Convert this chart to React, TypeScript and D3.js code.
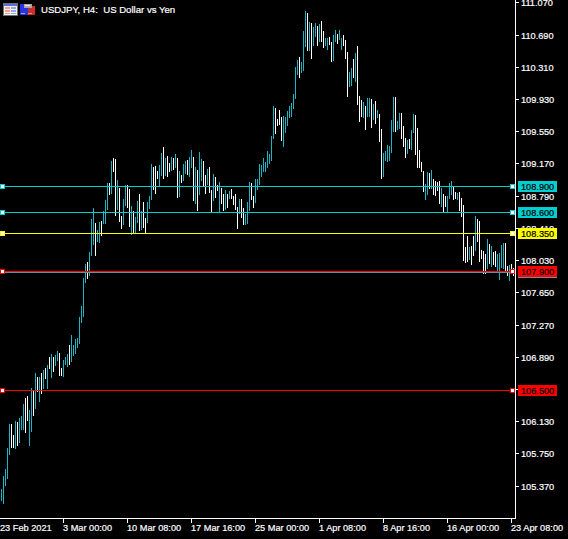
import React from "react";
import * as d3 from "d3";

const title = "USDJPY, H4:  US Dollar vs Yen";
const priceTicks = ["111.070","110.690","110.310","109.930","109.550","109.170","108.790","108.410","108.030","107.650","107.270","106.890","106.510","106.130","105.750","105.370"];
const timeTickBars = [31,63,95,127,159,191,223,255];
const timeTickLabels = ["3 Mar 00:00","10 Mar 08:00","17 Mar 16:00","25 Mar 00:00","1 Apr 08:00","8 Apr 16:00","16 Apr 00:00","23 Apr 08:00"];
const firstDateLabel = "23 Feb 2021";
const levelPrices = [108.9,108.6,108.35,107.9,106.5];
const levelLabels = ["108.900","108.600","108.350","107.900","106.500"];
const levelColors = ["#00CED1","#00CED1","#FFFF00","#FF0000","#FF0000"];
const bidPrice = 107.89;

const highs = [
105.341,105.494,105.577,105.825,106.108,106.108,105.978,106.143,106.131,106.179,
106.202,106.344,106.415,106.438,106.273,106.533,106.497,106.710,106.662,106.662,
106.710,106.745,106.769,106.804,106.898,106.934,106.898,106.922,106.969,106.946,
106.769,106.863,106.898,106.934,107.040,107.158,107.040,107.111,107.123,107.370,
107.500,107.831,107.996,108.019,108.137,108.527,108.657,108.480,108.397,108.491,
108.503,108.621,108.751,108.952,108.952,109.211,109.247,109.235,108.987,108.893,
108.562,108.763,108.928,108.928,108.881,108.680,108.621,108.550,108.739,108.822,
108.621,108.727,108.538,108.727,108.798,109.176,109.140,109.152,109.093,109.164,
109.306,109.376,109.247,109.270,109.188,109.258,109.247,109.294,109.247,109.093,
109.046,109.176,109.211,109.223,109.258,109.341,109.258,109.140,109.105,109.317,
109.235,109.211,109.046,109.117,109.140,108.869,109.058,109.022,108.928,108.963,
108.893,108.822,108.869,108.822,108.857,108.881,108.798,108.822,108.669,108.763,
108.763,108.657,108.586,108.727,108.963,108.952,108.798,108.999,108.999,109.176,
109.164,109.247,109.200,109.329,109.294,109.506,109.860,109.837,109.707,109.813,
109.730,109.742,109.730,109.801,109.860,109.896,110.002,110.320,110.403,110.438,
110.379,110.745,110.981,110.958,110.851,110.840,110.792,110.840,110.804,110.828,
110.863,110.745,110.662,110.662,110.674,110.615,110.698,110.757,110.710,110.757,
110.662,110.698,110.639,110.497,110.261,110.309,110.415,110.486,110.568,109.978,
109.931,109.907,109.860,109.955,109.955,109.943,109.884,109.919,109.813,109.766,
109.589,109.306,109.329,109.400,109.388,109.695,109.966,109.966,109.683,109.778,
109.778,109.624,109.483,109.459,109.471,109.577,109.766,109.754,109.601,109.341,
109.200,109.093,108.940,109.081,109.069,109.105,108.999,108.975,108.963,108.975,
108.893,108.822,108.798,108.798,108.952,108.975,108.904,108.845,108.834,108.845,
108.775,108.692,108.196,108.326,108.196,108.208,108.326,108.562,108.527,108.503,
108.161,108.149,108.114,108.291,108.232,108.208,108.137,108.149,108.114,108.126,
108.220,108.244,108.244,107.972,107.984,107.996,107.949];

const lows = [
105.199,105.164,105.376,105.459,105.742,105.825,105.825,105.813,105.848,105.884,
106.037,106.037,106.002,106.143,105.848,106.013,106.202,106.285,106.485,106.367,
106.462,106.521,106.639,106.521,106.757,106.651,106.721,106.792,106.851,106.674,
106.674,106.662,106.804,106.780,106.804,106.839,106.910,106.934,107.005,107.052,
107.300,107.370,107.772,107.819,107.854,108.090,108.220,108.090,108.255,108.244,
108.326,108.468,108.468,108.633,108.810,108.822,109.081,108.562,108.633,108.491,
108.409,108.456,108.680,108.657,108.433,108.338,108.350,108.350,108.480,108.385,
108.397,108.421,108.361,108.480,108.645,108.751,108.869,108.822,108.999,108.916,
109.034,108.999,109.034,109.022,109.081,109.093,109.105,109.128,108.775,108.786,
108.952,108.975,109.058,109.046,109.022,109.128,108.739,108.704,108.621,108.810,
108.975,108.916,108.822,108.928,108.834,108.609,108.739,108.775,108.857,108.609,
108.704,108.621,108.633,108.657,108.763,108.763,108.692,108.633,108.409,108.586,
108.538,108.456,108.456,108.468,108.621,108.751,108.657,108.715,108.869,108.928,
109.022,109.081,109.081,109.128,109.176,109.211,109.471,109.530,109.624,109.636,
109.447,109.376,109.542,109.624,109.719,109.730,109.825,109.943,110.226,110.191,
110.250,110.273,110.556,110.509,110.509,110.415,110.568,110.674,110.568,110.615,
110.615,110.545,110.568,110.521,110.580,110.379,110.391,110.615,110.592,110.639,
110.521,110.568,110.415,109.966,110.084,110.096,110.191,110.143,109.872,109.671,
109.730,109.719,109.577,109.730,109.730,109.601,109.695,109.648,109.719,109.435,
108.999,109.022,109.211,109.200,109.211,109.306,109.553,109.553,109.577,109.589,
109.471,109.376,109.247,109.294,109.353,109.341,109.542,109.282,109.128,109.128,
109.081,108.845,108.751,108.810,108.881,108.881,108.810,108.798,108.857,108.704,
108.669,108.609,108.669,108.609,108.763,108.810,108.751,108.763,108.751,108.621,
108.550,108.031,108.007,108.019,108.043,107.984,108.090,108.149,108.255,108.019,
108.055,107.878,107.878,107.937,107.996,107.960,107.984,107.960,107.901,107.807,
107.949,107.937,107.901,107.854,107.795,107.901,107.854];

// u = bullish bar, d = bearish bar
const directions = [
"uuuuuddudu","uudduududu","dudududuud","duuuduuuuu","uuuduuuduu",
"duuududdud","duudduduud","udduuudddu","ududdududu","duuduududu",
"uddudduddu","ddududdddu","dduuudduuu","uuuuuuuddd","duuuuuuuud",
"uuududuudu","dduudduudu","uddduududd","duduududud","duuuuuuduu",
"ddduduuddd","dduududddd","udduuuddud","dddduddudd","dddududduu",
"uuddudd"].join("");

const W = 568, H = 539, AXIS_X = 515, AXIS_Y = 518;
const UP = "#1FB4C4", DOWN = "#FFFFFF", AXIS = "#FFFFFF";
const FONT = "'Liberation Sans', Arial, sans-serif";
const LABEL_SIZE = 9.2;

const x = d3.scaleLinear().domain([0, 256]).range([1, 513]);
const y = d3.scaleLinear().domain([111.1051, 104.9927]).range([0, 518]);

function LevelMarker({ cx, cy, color }: { cx: number; cy: number; color: string }) {
  return (
    <g shapeRendering="crispEdges">
      <rect x={cx} y={cy - 2} width={5} height={5} fill={color} />
      <rect x={cx + 1} y={cy - 1} width={3} height={3} fill="#fff" />
    </g>
  );
}

export default function App() {
  const textProps = { fontSize: LABEL_SIZE, strokeWidth: 0.2 };
  return (
    <svg width={W} height={H} style={{ position: "fixed", left: 0, top: 0, display: "block" }} fontFamily={FONT}>
      <rect width={W} height={H} fill="#000" />

      {/* header icons */}
      <g shapeRendering="crispEdges">
        <rect x={3} y={3} width={15} height={13} fill="#6E6E6E" />
        <rect x={4} y={4} width={13} height={11} fill="#F2F2F2" />
        <rect x={4} y={4} width={13} height={2} fill="#5C6CD8" />
        <rect x={5} y={7} width={5} height={7} fill="#F0A090" />
        <rect x={11} y={7} width={5} height={7} fill="#98A8E8" />
        <rect x={5} y={9} width={11} height={1} fill="#F2F2F2" />
        <rect x={5} y={12} width={11} height={1} fill="#F2F2F2" />
        <rect x={20} y={4} width={8} height={11} fill="#2A35E0" />
        <rect x={28} y={6} width={7} height={9} fill="#C8302C" />
        <rect x={24} y={4} width={8} height={4} fill="#A8A8A8" />
        <rect x={25} y={5} width={5} height={1} fill="#EEE" />
        <rect x={21} y={13} width={4} height={1} fill="#A8B0F0" />
        <rect x={28} y={13} width={4} height={1} fill="#E09088" />
      </g>
      <text x={41} y={13} fill="#fff" stroke="#fff" fontSize={9.6} strokeWidth={0.2} style={{ whiteSpace: "pre" }}>{title}</text>

      {/* bars */}
      <g shapeRendering="crispEdges">
        {highs.map((h, i) => {
          const t = Math.ceil(y(h));
          const b = Math.ceil(y(lows[i]));
          return <rect key={i} x={x(i)} y={t} width={1} height={Math.max(1, b - t)} fill={directions[i] === "u" ? UP : DOWN} />;
        })}
      </g>

      {/* axes */}
      <g shapeRendering="crispEdges">
        <rect x={AXIS_X} y={0} width={1} height={AXIS_Y + 1} fill={AXIS} />
        <rect x={0} y={AXIS_Y} width={AXIS_X + 1} height={1} fill={AXIS} />
        {priceTicks.map((t) => (
          <rect key={t} x={AXIS_X + 1} y={Math.floor(y(+t))} width={3} height={1} fill={AXIS} />
        ))}
        {timeTickBars.map((b) => (
          <rect key={b} x={x(b)} y={AXIS_Y + 1} width={1} height={4} fill={AXIS} />
        ))}
      </g>
      {priceTicks.map((t) => (
        <text key={t} x={521} y={Math.floor(y(+t)) + 4} fill="#fff" stroke="#fff" {...textProps}>{t}</text>
      ))}
      <text x={0} y={531} fill="#fff" stroke="#fff" {...textProps}>{firstDateLabel}</text>
      {timeTickBars.map((b, i) => (
        <text key={b} x={x(b)} y={531} fill="#fff" stroke="#fff" {...textProps}>{timeTickLabels[i]}</text>
      ))}

      {/* level lines */}
      <rect x={0} y={Math.floor(y(bidPrice))} width={AXIS_X} height={1} fill="#778899" shapeRendering="crispEdges" />
      {levelPrices.map((p, i) => {
        const ly = Math.floor(y(p));
        const c = levelColors[i];
        return (
          <g key={p}>
            <rect x={0} y={ly} width={AXIS_X} height={1} fill={c} shapeRendering="crispEdges" />
            <LevelMarker cx={0} cy={ly} color={c} />
            <LevelMarker cx={510} cy={ly} color={c} />
          </g>
        );
      })}
      {/* price tags */}
      {levelPrices.map((p, i) => {
        const ly = Math.floor(y(p));
        return (
          <g key={p}>
            <rect x={518} y={ly - 5} width={39} height={11} fill={levelColors[i]} shapeRendering="crispEdges" />
            <text x={521} y={ly + 4} fill="#000" stroke="#000" {...textProps}>{levelLabels[i]}</text>
          </g>
        );
      })}
      <rect x={518} y={Math.floor(y(bidPrice)) + 5} width={39} height={1} fill="#778899" shapeRendering="crispEdges" />
    </svg>
  );
}
